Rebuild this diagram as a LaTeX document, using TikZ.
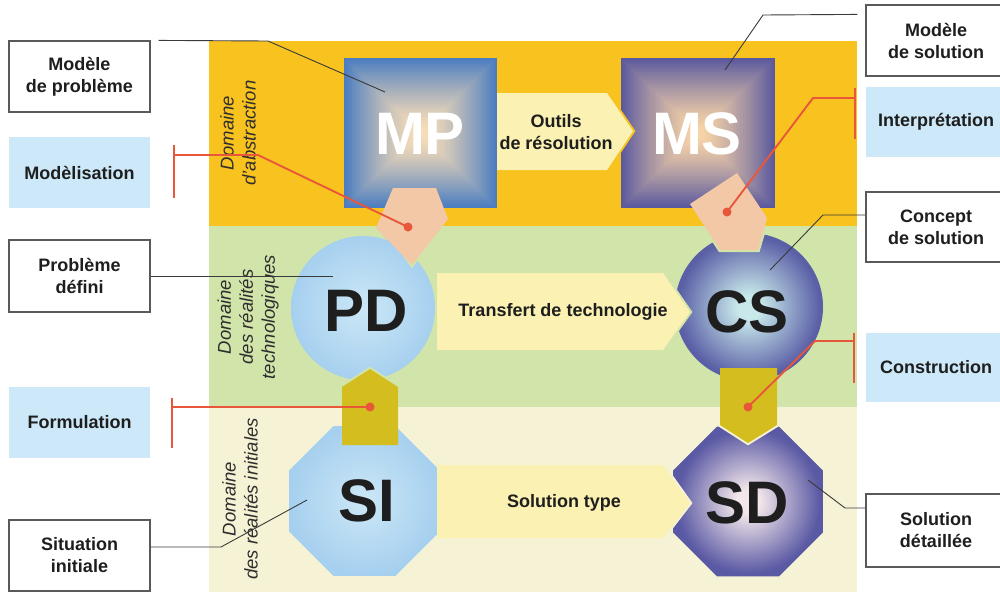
\documentclass[tikz,border=0pt]{standalone}
\usepackage{fontspec}
\setmainfont{Liberation Sans}
\usetikzlibrary{shapes.geometric}
\definecolor{orangeband}{HTML}{F9C31F}
\definecolor{greenband}{HTML}{D1E5AA}
\definecolor{creamband}{HTML}{F6F2D5}
\definecolor{lblue}{HTML}{CDE9F9}
\definecolor{redc}{HTML}{E8573A}
\definecolor{arrowy}{HTML}{FBF1B2}
\definecolor{peach}{HTML}{F2C8A6}
\definecolor{olivey}{HTML}{D3BD1F}
\definecolor{mpout}{HTML}{4B7DC0}
\definecolor{mpin}{HTML}{F8DDB8}
\definecolor{msout}{HTML}{5A599E}
\definecolor{msin}{HTML}{F7D3A8}
\definecolor{pdout}{HTML}{A6D0EF}
\definecolor{pdin}{HTML}{CCE7F6}
\definecolor{csout}{HTML}{5A5FA6}
\definecolor{csin}{HTML}{C8E8EA}
\definecolor{sdout}{HTML}{5A59A4}
\definecolor{sdin}{HTML}{F2E6EA}
\definecolor{txt}{HTML}{1E1E1E}
\definecolor{leadc}{HTML}{3A3A3A}
\pgfdeclareradialshading{pdsh}{\pgfpoint{0bp}{0bp}}{color(0bp)=(pdin); color(25bp)=(pdout); color(50bp)=(pdout)}
\pgfdeclareradialshading{cssh}{\pgfpoint{0bp}{0bp}}{color(0bp)=(csin); color(4bp)=(csin); color(24bp)=(csout); color(50bp)=(csout)}
\pgfdeclareradialshading{sdsh}{\pgfpoint{0bp}{0bp}}{color(0bp)=(sdin); color(4bp)=(sdin); color(24bp)=(sdout); color(50bp)=(sdout)}
\begin{document}
\begin{tikzpicture}[x=1pt,y=-1pt,
  lbl/.style={font=\fontsize{18}{22}\selectfont\bfseries, align=center, text=txt, inner sep=0pt},
  wbox/.style={lbl, draw=black!65, line width=1.2pt, fill=white},
  bbox/.style={lbl, fill=lblue},
  leader/.style={draw=leadc, line width=0.9pt},
  redl/.style={draw=redc, line width=1.9pt},
  reddot/.style={fill=redc},
  big/.style={font=\fontsize{60}{60}\selectfont\bfseries, inner sep=0pt, text=txt},
  dom/.style={font=\fontsize{18.5}{22}\selectfont\itshape, rotate=90, align=center, text=black!82, inner sep=0pt},
  sq/.style={rectangle, inner sep=0pt},
  octa/.style={regular polygon, regular polygon sides=8, shade, inner sep=0pt},
  arr/.style={fill=arrowy},
  gap/.style={line width=4pt, line join=miter}
]
\clip (0,0) rectangle (1000,592);
\fill[white] (0,0) rectangle (1000,592);
% bands
\fill[orangeband] (209,41) rectangle (857,226);
\fill[greenband] (209,226) rectangle (857,407);
\fill[creamband] (209,407) rectangle (857,592);

% label boxes
\node[wbox, minimum width=141pt, minimum height=71pt] (lMP) at (79.5,76.5) {Modèle\\de problème};
\node[bbox, minimum width=141pt, minimum height=71pt] (lMod) at (79.5,172.5) {Modèlisation};
\node[wbox, minimum width=141pt, minimum height=72pt] (lPD) at (79.5,276) {Problème\\défini};
\node[bbox, minimum width=141pt, minimum height=71pt] (lFor) at (79.5,422.5) {Formulation};
\node[wbox, minimum width=141pt, minimum height=71pt] (lSI) at (79.5,555.5) {Situation\\initiale};
\node[wbox, minimum width=140pt, minimum height=71pt] (rMS) at (936,40.5) {Modèle\\de solution};
\node[bbox, minimum width=140pt, minimum height=70pt] (rInt) at (936,122) {Interprétation};
\node[wbox, minimum width=140pt, minimum height=70pt] (rCS) at (936,227) {Concept\\de solution};
\node[bbox, minimum width=140pt, minimum height=69pt] (rCon) at (936,367.5) {Construction};
\node[wbox, minimum width=140pt, minimum height=73pt] (rSD) at (936,530.5) {Solution\\détaillée};

% main shapes: squares with square gradient
\foreach \i in {0,...,36} {
  \pgfmathsetmacro\s{1-0.95*\i/36}
  \pgfmathsetmacro\p{100*(1-\i/36)^1.3}
  \fill[mpout!\p!mpin] ({420.5-76.5*\s},{133-75*\s}) rectangle ({420.5+76.5*\s},{133+75*\s});
  \fill[msout!\p!msin] ({698-77*\s},{133-75*\s}) rectangle ({698+77*\s},{133+75*\s});
}
\node[sq, minimum width=153pt, minimum height=150pt] (MP) at (420.5,133) {};
\node[sq, minimum width=154pt, minimum height=150pt] (MS) at (698,133) {};
\node[circle, shade, shading=pdsh, minimum size=144pt, inner sep=0pt] (PD) at (363,308) {};
\node[circle, shade, shading=cssh, minimum size=148pt, inner sep=0pt] (CS) at (749,307) {};
\node[octa, shading=pdsh, minimum size=162pt] (SI) at (364.5,501) {};
\node[octa, shading=sdsh, minimum size=162pt] (SD) at (748,501.5) {};

% arrows
\draw[gap, orangeband] (607,93) -- (633,131) -- (607,170);
\fill[arr] (497,93) -- (607,93) -- (633,131) -- (607,170) -- (497,170) -- cycle;
\draw[gap, greenband] (663,273) -- (690,312) -- (663,350);
\fill[arr] (437,273) -- (663,273) -- (690,312) -- (663,350) -- (437,350) -- cycle;
\draw[gap, creamband] (663,465) -- (690,503) -- (663,538);
\fill[arr] (437,465) -- (663,465) -- (690,503) -- (663,538) -- (437,538) -- cycle;
\node[lbl] (aOut) at (556,132) {Outils\\de résolution};
\node[lbl] (aTr) at (563,312) {Transfert de technologie};
\node[lbl] (aSol) at (564,503) {Solution type};

% connectors between shapes
\draw[gap, greenband] (434,235) -- (412,265) -- (391,235);
\fill[peach] (393,188) -- (436,188) -- (448,219) -- (412,265) -- (376,228) -- cycle;
\draw[gap, greenband] (763,233) -- (758,250) -- (720,250) -- (709,233);
\fill[peach] (690,204) -- (737,173) -- (767,218) -- (758,250) -- (720,250) -- cycle;
\draw[gap, greenband] (342,387) -- (370,369) -- (398,387);
\fill[olivey] (342,445) -- (342,387) -- (370,369) -- (398,387) -- (398,445) -- cycle;
\draw[gap, creamband] (720,425) -- (748,443) -- (777,425);
\fill[olivey] (720,368) -- (777,368) -- (777,425) -- (748,443) -- (720,425) -- cycle;

% big letters
\node[big, text=white] (tMP) at (420,134) {MP};
\node[big, text=white] (tMS) at (697,134) {MS};
\node[big] (tPD) at (366,311) {PD};
\node[big] (tCS) at (747,312) {CS};
\node[big] (tSI) at (367,501) {SI};
\node[big] (tSD) at (747,503) {SD};

% domain labels
\node[dom] (d1) at (238,133) {Domaine\\d'abstraction};
\node[dom] (d2) at (248,317) {Domaine\\des réalités\\technologiques};
\node[dom] (d3) at (240,499) {Domaine\\des réalités initiales};

% leader lines
\coordinate (pMP) at (385,92);
\coordinate (pMS) at (725,70);
\coordinate (pPD) at (333,276);
\coordinate (pCS) at (770,270);
\coordinate (pSI) at (307,500);
\coordinate (pSD) at (808,480);
\draw[leader] ([xshift=8pt]lMP.north east) -- (268,41) -- (pMP);
\draw[leader] (lPD.east) -- (pPD);
\draw[leader] ([yshift=8.5pt]lSI.east) -- (221,547) -- (pSI);
\draw[leader] ([xshift=-8pt,yshift=-10pt]rMS.north west) -- (763,15) -- (pMS);
\draw[leader] ([yshift=12pt]rCS.west) -- (823,215) -- (pCS);
\draw[leader] ([yshift=22.5pt]rSD.west) -- (845,508) -- (pSD);

% red connectors
\coordinate (dot1) at (408,227);
\coordinate (dot2) at (727,212);
\coordinate (dot3) at (370,407);
\coordinate (dot4) at (748,407);
\coordinate (bMod) at (174,155);
\coordinate (bFor) at (172,407);
\coordinate (bInt) at (855,98);
\coordinate (bCon) at (854,341);
\draw[redl] (bMod) ++(0,-10) -- ++(0,53);
\draw[redl] (bMod) -- (258,155) -- (dot1);
\draw[redl] (bFor) ++(0,-9) -- ++(0,50);
\draw[redl] (bFor) -- (dot3);
\draw[redl] (bInt) ++(0,-10) -- ++(0,51);
\draw[redl] (bInt) -- (813,98) -- (dot2);
\draw[redl] (bCon) ++(0,-8) -- ++(0,50);
\draw[redl] (bCon) -- (815,341) -- (dot4);
\foreach \d in {dot1,dot2,dot3,dot4} \fill[reddot] (\d) circle (4.5);
\end{tikzpicture}
\end{document}
